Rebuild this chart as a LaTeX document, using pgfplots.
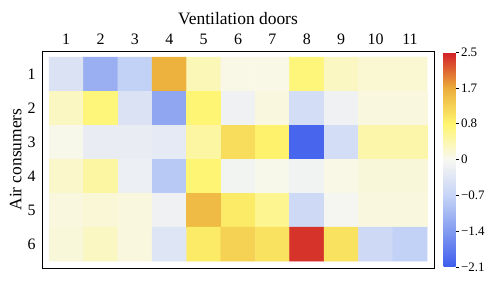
\documentclass[border=0pt]{standalone}
\usepackage{fontspec}
\setmainfont{Liberation Serif}
\usepackage{pgfplots}
\pgfplotsset{compat=1.18}
\begin{document}
\begin{tikzpicture}
\begin{axis}[
 scale only axis, width=392bp, height=217bp,
 xmin=0.296, xmax=11.7, ymin=0.32, ymax=6.7, y dir=reverse,
 xtick={1,...,11}, ytick={1,...,6},
 xticklabel pos=upper,
 tick style={draw=none},
 xlabel={Ventilation doors}, ylabel={Air consumers},
 ticklabel style={font=\fontsize{16}{18}\selectfont},
 xticklabel style={yshift=3bp},
 yticklabel style={xshift=-3bp},
 xlabel style={yshift=2bp},
 ylabel style={yshift=-1bp},
 label style={font=\fontsize{17.5}{19}\selectfont},
 /pgf/number format/assume math mode=true,
 axis line style={black, line width=0.8pt},
 colormap={vent}{rgb255=(62,92,238) rgb255=(130,155,240) rgb255=(198,212,246) rgb255=(248,248,242) rgb255=(255,245,110) rgb255=(235,172,58) rgb255=(210,30,40)},
 point meta min=-1, point meta max=1,
 colorbar,
 colorbar style={scale only axis, width=12bp, height=215bp,
   at={(parent axis.north east)}, anchor=north west, xshift=1bp, yshift=-1bp,
   ytick={-1,-0.6667,-0.3333,0,0.3333,0.6667,1},
   yticklabels={−2.1,−1.4,−0.7,0,0.8,1.7,2.5},
   yticklabel style={font=\fontsize{13}{15}\selectfont, xshift=-1bp},
   tick style={draw=black, line width=0.5pt}, major tick length=3bp,
   ytick pos=right, tick align=outside, axis line style={draw=none}},
]
\addplot[matrix plot*, mesh/cols=11, point meta=explicit]
 table[x=x, y=y, meta expr={(\thisrow{v}<0)*\thisrow{v}/2.1+(\thisrow{v}>=0)*\thisrow{v}/2.5}] {
x y v
1 1 -0.42
2 1 -1.15
3 1 -0.74
4 1 1.60
5 1 0.38
6 1 0.08
7 1 0.08
8 1 0.75
9 1 0.30
10 1 0.20
11 1 0.20
1 2 0.30
2 2 0.75
3 2 -0.42
4 2 -1.26
5 2 0.80
6 2 -0.13
7 2 0.12
8 2 -0.52
9 2 -0.13
10 2 0.12
11 2 0.12
1 3 0.05
2 3 -0.21
3 3 -0.21
4 3 -0.27
5 3 0.50
6 3 1.12
7 3 0.88
8 3 -2.00
9 3 -0.52
10 3 0.45
11 3 0.45
1 4 0.25
2 4 0.50
3 4 -0.17
4 4 -0.84
5 4 0.80
6 4 -0.08
7 4 0.05
8 4 -0.10
9 4 0.08
10 4 0.15
11 4 0.15
1 5 0.12
2 5 0.18
3 5 0.12
4 5 -0.13
5 5 1.50
6 5 0.95
7 5 0.62
8 5 -0.59
9 5 -0.04
10 5 0.12
11 5 0.12
1 6 0.15
2 6 0.30
3 6 0.12
4 6 -0.36
5 6 0.95
6 6 1.25
7 6 1.05
8 6 2.38
9 6 1.05
10 6 -0.59
11 6 -0.74
};
\end{axis}
\pgfresetboundingbox
\path[use as bounding box] ([shift={(-42bp,-13bp)}]current axis.south west) rectangle ([shift={(65bp,51bp)}]current axis.north east);
\end{tikzpicture}
\end{document}
